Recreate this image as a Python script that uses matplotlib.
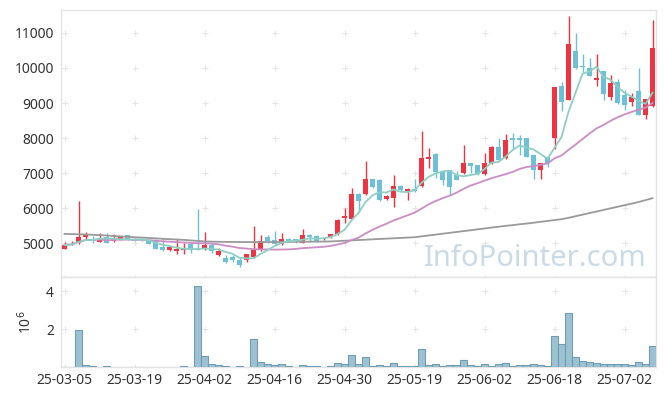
import numpy as np
import pandas as pd
import matplotlib
matplotlib.use("Agg")
import matplotlib.pyplot as plt

plt.rcParams["font.family"] = ["Noto Sans", "DejaVu Sans"]

# ─── Data ─────────────────────────────────────────────────────────────────────

tick_labels = ["25-03-05", "25-03-19", "25-04-02", "25-04-16", "25-04-30",
               "25-05-19", "25-06-02", "25-06-18", "25-07-02"]

opens = [4840, 4950, 4990, 5180, 5100, 5030, 5170, 5060, 5120, 5220,
         5110, 5100, 5080, 5050, 4890, 4790, 4785, 4790, 4980, 4840,
         4840, 4940, 4670, 4570, 4600, 4510, 4520, 4590, 4840, 5170,
         5080, 4970, 5110, 5110, 5010, 5230, 5200, 5110, 5160, 5250,
         5710, 5690, 6400, 6400, 6830, 6800, 6250, 6300, 6630, 6480,
         6550, 6630, 7400, 7540, 7060, 7080, 6940, 6990, 7280, 7230,
         6970, 7280, 7750, 7420, 7990, 8010, 8000, 7510, 7090, 7450,
         8010, 9490, 9090, 10490, 10060, 9990, 9660, 9910, 9180, 9610,
         9230, 9040, 9350, 8660, 8910]
highs = [5020, 5050, 6200, 5310, 5210, 5280, 5290, 5250, 5190, 5230,
         5130, 5120, 5100, 5120, 5140, 4890, 5110, 4990, 4990, 5970,
         5310, 4990, 4870, 4650, 4660, 4560, 4700, 5490, 5230, 5230,
         5340, 5280, 5130, 5120, 5400, 5250, 5230, 5170, 5270, 5680,
         6000, 6560, 6420, 7340, 6840, 6820, 6360, 6940, 6650, 6560,
         6820, 8190, 7720, 7580, 7080, 7090, 7050, 7800, 7300, 7240,
         7560, 7760, 7990, 8110, 8130, 8090, 8010, 7520, 7300, 7460,
         9460, 9610, 11490, 10990, 10400, 10280, 10400, 9920, 9800, 9700,
         9370, 9290, 10010, 9120, 11370]
lows = [4830, 4940, 4980, 5120, 5010, 5020, 4990, 5030, 5100, 5090,
        5050, 5060, 4970, 4820, 4780, 4780, 4690, 4690, 4720, 4790,
        4790, 4720, 4640, 4440, 4470, 4310, 4450, 4580, 4760, 4990,
        4960, 4950, 5040, 5010, 5000, 5040, 5030, 5100, 5130, 5240,
        5560, 5680, 5890, 6380, 6580, 6200, 6230, 6020, 6500, 6230,
        6470, 6600, 7130, 6850, 6660, 6360, 6790, 6980, 6990, 6950,
        6950, 7260, 7340, 7400, 7710, 7510, 7460, 6820, 6820, 7180,
        7680, 8780, 9080, 9980, 9890, 9760, 9490, 9090, 9090, 8980,
        8800, 8910, 8650, 8540, 8900]
closes = [4940, 4980, 5160, 5260, 5080, 5150, 5000, 5130, 5170, 5100,
          5060, 5080, 4980, 4840, 4790, 4880, 4830, 4850, 4790, 4800,
          4940, 4760, 4780, 4460, 4520, 4370, 4680, 4800, 5060, 5060,
          4970, 5110, 5070, 5090, 5220, 5180, 5040, 5150, 5260, 5660,
          5770, 6400, 6200, 6830, 6610, 6230, 6340, 6630, 6520, 6550,
          6480, 7420, 7460, 7030, 6810, 6610, 6800, 7280, 7210, 6970,
          7290, 7750, 7370, 7940, 7930, 7930, 7470, 7090, 7290, 7280,
          9450, 9040, 10690, 9990, 10020, 9770, 9710, 9260, 9560, 8990,
          8940, 9170, 8660, 9110, 10580]
# long average (gray line), history before the window is not shown
ma_long = [5260, 5255, 5250, 5243, 5235, 5225, 5215, 5200, 5190, 5178,
           5165, 5155, 5145, 5135, 5120, 5110, 5100, 5090, 5075, 5060,
           5045, 5040, 5035, 5032, 5030, 5028, 5027, 5026, 5026, 5027,
           5028, 5030, 5032, 5034, 5036, 5038, 5040, 5042, 5045, 5055,
           5065, 5075, 5085, 5095, 5105, 5115, 5125, 5135, 5145, 5155,
           5165, 5190, 5215, 5240, 5265, 5290, 5315, 5340, 5365, 5390,
           5415, 5440, 5465, 5490, 5510, 5535, 5555, 5580, 5605, 5630,
           5655, 5680, 5720, 5765, 5810, 5855, 5900, 5945, 5990, 6035,
           6080, 6125, 6170, 6225, 6280]
volumes = [0.01, 0.01, 1.93, 0.09, 0.05, 0.01, 0.04, 0.01, 0.01, 0.01,
           0.01, 0.01, 0.01, 0.01, 0.01, 0.01, 0.01, 0.04, 0.01, 4.25,
           0.56, 0.14, 0.10, 0.04, 0.01, 0.04, 0.01, 1.46, 0.25, 0.14,
           0.10, 0.14, 0.04, 0.01, 0.10, 0.04, 0.04, 0.01, 0.04, 0.19,
           0.15, 0.61, 0.14, 0.51, 0.04, 0.09, 0.04, 0.19, 0.04, 0.04,
           0.04, 0.93, 0.09, 0.14, 0.04, 0.09, 0.09, 0.35, 0.09, 0.04,
           0.14, 0.04, 0.14, 0.19, 0.04, 0.09, 0.09, 0.14, 0.09, 0.04,
           1.61, 1.19, 2.82, 0.51, 0.30, 0.25, 0.19, 0.14, 0.14, 0.14,
           0.14, 0.09, 0.25, 0.14, 1.09]  # x 10^6

# ─── Styles ───────────────────────────────────────────────────────────────────
UP, DOWN = "#ef3340", "#6cc0d8"
MA5_C, MA20_C, MAL_C = "#8ecfc4", "#cc8cc4", "#9a9a9a"
GRID_C, SPINE_C, TEXT_C = "#e6e6e6", "#e4e4e4", "#333333"

df = pd.DataFrame({"open": opens, "high": highs, "low": lows,
                   "close": closes, "vol": volumes, "ma_long": ma_long})
df["ma5"] = df["close"].rolling(5, min_periods=1).mean()
df["ma20"] = df["close"].rolling(20, min_periods=1).mean()
x = np.arange(len(df))
up = df["close"] >= df["open"]
colors = np.where(up, UP, DOWN)

fig = plt.figure(figsize=(6.65, 3.96), dpi=100)
ax = fig.add_axes([61 / 665, 1 - 277 / 396, 595 / 665, 267 / 396])
axv = fig.add_axes([61 / 665, 1 - 367 / 396, 595 / 665, 90 / 396])

# candles
ax.vlines(x, df["low"], df["high"], color=colors, lw=1.0, zorder=2)
body_lo = np.minimum(df["open"], df["close"])
body_h = np.maximum(np.abs(df["close"] - df["open"]), 25)
ax.bar(x, body_h, bottom=body_lo, width=0.7, color=colors, lw=0, zorder=3)

ax.plot(x, df["ma_long"], color=MAL_C, lw=1.3, zorder=4)
ax.plot(x, df["ma20"], color=MA20_C, lw=1.3, zorder=4)
ax.plot(x, df["ma5"], color=MA5_C, lw=1.3, zorder=4)

ax.set_xlim(-0.5, len(df) - 0.5)
ax.set_ylim(4029, 11657)
price_ticks = np.arange(5000, 11001, 1000)
ax.set_yticks(price_ticks)
ax.set_xticks([])
ax.text(0.985, 0.04, "InfoPointer.com", transform=ax.transAxes,
        ha="right", va="baseline", fontsize=21, color="#c8dbe6", zorder=1)

# volume
axv.bar(x, df["vol"], width=1.0, color="#9cc2d2", edgecolor="#6f9db3",
        lw=0.8, zorder=3)
axv.set_xlim(-0.5, len(df) - 0.5)
axv.set_ylim(0, 4.74)
axv.set_yticks([2, 4])
axv.set_yticklabels(["2", "4"])
axv.set_ylabel("10$^6$", fontsize=10, color=TEXT_C, labelpad=8)
xt = np.arange(0, len(df), 10)
axv.set_xticks(xt)
axv.set_xticklabels(tick_labels)

# "+" grid marks at tick intersections
gx, gy = np.meshgrid(xt, np.arange(4000, 12001, 1000))
ax.scatter(gx.ravel(), gy.ravel(), marker="+", s=14, color=GRID_C, lw=0.8, zorder=0)
gx, gy = np.meshgrid(xt, [0, 2, 4])
axv.scatter(gx.ravel(), gy.ravel(), marker="+", s=14, color=GRID_C, lw=0.8, zorder=0)

for a in (ax, axv):
    for s in a.spines.values():
        s.set_color(SPINE_C)
        s.set_linewidth(1.0)
    a.tick_params(length=0, colors=TEXT_C, labelsize=10, pad=5)
axv.tick_params(axis="x", pad=4)

plt.savefig("out.png", dpi=100)
